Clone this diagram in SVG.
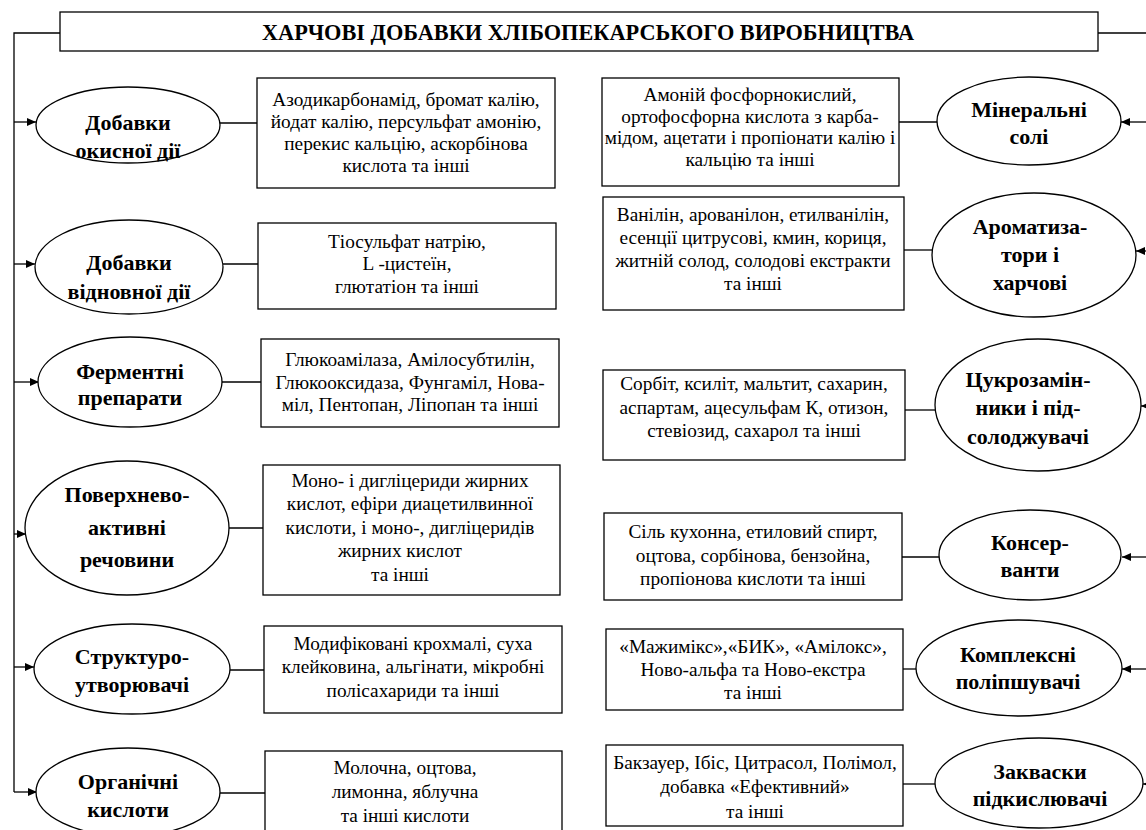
<svg xmlns="http://www.w3.org/2000/svg" width="1146" height="830" viewBox="0 0 1146 830" font-family="'Liberation Serif', serif">
<defs>
<marker id="arr" markerWidth="10" markerHeight="8" refX="9" refY="4" orient="auto" markerUnits="userSpaceOnUse">
<path d="M0,0 L9,4 L0,8 Z" fill="#000"/>
</marker>
<style>
.box{fill:#fff;stroke:#000;stroke-width:1.3}
.ell{fill:#fff;stroke:#000;stroke-width:1.3}
.ln{fill:none;stroke:#000;stroke-width:1.3}
.lab{font-weight:bold;font-size:22px;text-anchor:middle;fill:#000}
.txt{font-size:19.3px;text-anchor:middle;fill:#000}
.ttl{font-weight:bold;font-size:22.3px;text-anchor:middle;fill:#000}
</style>
</defs>
<rect width="1146" height="830" fill="#fff"/>

<g id="connectors">
<path class="ln" d="M60,33 H14 V792"/>
<path class="ln" d="M1098,33 H1146"/>
<line class="ln" x1="14" y1="122" x2="36" y2="122" marker-end="url(#arr)"/>
<line class="ln" x1="14" y1="264" x2="35" y2="264" marker-end="url(#arr)"/>
<line class="ln" x1="14" y1="382" x2="39" y2="382" marker-end="url(#arr)"/>
<line class="ln" x1="14" y1="534" x2="26" y2="534" marker-end="url(#arr)"/>
<line class="ln" x1="14" y1="667" x2="34" y2="667" marker-end="url(#arr)"/>
<line class="ln" x1="14" y1="792" x2="37" y2="792" marker-end="url(#arr)"/>
<line class="ln" x1="220" y1="123" x2="257" y2="123"/>
<line class="ln" x1="223" y1="264" x2="258" y2="264"/>
<line class="ln" x1="222" y1="382" x2="261" y2="382"/>
<line class="ln" x1="229" y1="528" x2="263" y2="528"/>
<line class="ln" x1="230" y1="670" x2="264" y2="670"/>
<line class="ln" x1="220" y1="793" x2="265" y2="793"/>
<line class="ln" x1="1146" y1="122" x2="1121" y2="122" marker-end="url(#arr)"/>
<line class="ln" x1="1146" y1="251" x2="1136" y2="251" marker-end="url(#arr)"/>
<line class="ln" x1="1150" y1="406" x2="1141" y2="406" marker-end="url(#arr)"/>
<line class="ln" x1="1146" y1="557" x2="1122" y2="557" marker-end="url(#arr)"/>
<line class="ln" x1="1146" y1="669" x2="1122" y2="669" marker-end="url(#arr)"/>
<line class="ln" x1="1152" y1="784" x2="1143" y2="784" marker-end="url(#arr)"/>
<line class="ln" x1="899" y1="122" x2="937" y2="122"/>
<line class="ln" x1="904" y1="250" x2="932" y2="250"/>
<line class="ln" x1="905" y1="410" x2="935" y2="410"/>
<line class="ln" x1="902" y1="557" x2="939" y2="557"/>
<line class="ln" x1="903" y1="669" x2="916" y2="669"/>
<line class="ln" x1="903" y1="784" x2="935" y2="784"/>
</g>

<g id="title">
<rect class="box" x="60" y="12" width="1038" height="39"/>
<text class="ttl" x="588" y="40">ХАРЧОВІ ДОБАВКИ ХЛІБОПЕКАРСЬКОГО ВИРОБНИЦТВА</text>
</g>

<g id="e1"><ellipse class="ell" cx="128" cy="125" rx="92" ry="38"/>
<text class="lab" x="128" y="130">Добавки</text><text class="lab" x="128" y="158">окисної дії</text></g>
<g id="e2"><ellipse class="ell" cx="129" cy="267" rx="94" ry="47"/>
<text class="lab" x="129" y="270">Добавки</text><text class="lab" x="129" y="299">відновної дії</text></g>
<g id="e3"><ellipse class="ell" cx="130" cy="382" rx="92" ry="45"/>
<text class="lab" x="130" y="379">Ферментні</text><text class="lab" x="130" y="405">препарати</text></g>
<g id="e4"><ellipse class="ell" cx="127" cy="528" rx="102" ry="67"/>
<text class="lab" x="127" y="502">Поверхнево-</text><text class="lab" x="127" y="535">активні</text><text class="lab" x="127" y="567">речовини</text></g>
<g id="e5"><ellipse class="ell" cx="132" cy="669" rx="98" ry="45"/>
<text class="lab" x="132" y="664">Структуро-</text><text class="lab" x="132" y="692">утворювачі</text></g>
<g id="e6"><ellipse class="ell" cx="128" cy="792" rx="92" ry="44"/>
<text class="lab" x="128" y="789">Органічні</text><text class="lab" x="128" y="817">кислоти</text></g>

<g id="b1"><rect class="box" x="257" y="78" width="298" height="110"/>
<text class="txt" x="406" y="106">Азодикарбонамід, бромат калію,</text>
<text class="txt" x="406" y="128">йодат калію, персульфат амонію,</text>
<text class="txt" x="406" y="150">перекис кальцію, аскорбінова</text>
<text class="txt" x="406" y="172">кислота та інші</text></g>
<g id="b2"><rect class="box" x="258" y="223" width="298" height="86"/>
<text class="txt" x="407" y="248">Тіосульфат натрію,</text>
<text class="txt" x="407" y="270">L -цистеїн,</text>
<text class="txt" x="407" y="293">глютатіон та інші</text></g>
<g id="b3"><rect class="box" x="261" y="339" width="298" height="88"/>
<text class="txt" x="410" y="366">Глюкоамілаза, Амілосубтилін,</text>
<text class="txt" x="410" y="389">Глюкооксидаза, Фунгаміл, Нова-</text>
<text class="txt" x="410" y="411">міл, Пентопан, Ліпопан та інші</text></g>
<g id="b4"><rect class="box" x="263" y="465" width="297" height="130"/>
<text class="txt" x="410" y="487">Моно- і дигліцериди жирних</text>
<text class="txt" x="410" y="510">кислот, ефіри диацетилвинної</text>
<text class="txt" x="410" y="534">кислоти, і моно-, дигліцеридів</text>
<text class="txt" x="400" y="557">жирних кислот</text>
<text class="txt" x="400" y="581">та інші</text></g>
<g id="b5"><rect class="box" x="264" y="626" width="298" height="87"/>
<text class="txt" x="413" y="650">Модифіковані крохмалі, суха</text>
<text class="txt" x="413" y="673">клейковина, альгінати, мікробні</text>
<text class="txt" x="413" y="697">полісахариди та інші</text></g>
<g id="b6"><rect class="box" x="265" y="751" width="297" height="90"/>
<text class="txt" x="405" y="774">Молочна, оцтова,</text>
<text class="txt" x="405" y="798">лимонна, яблучна</text>
<text class="txt" x="405" y="822">та інші кислоти</text></g>

<g id="r1"><ellipse class="ell" cx="1029" cy="121" rx="92" ry="44"/>
<text class="lab" x="1029" y="117">Мінеральні</text><text class="lab" x="1029" y="144">солі</text></g>
<g id="r2"><ellipse class="ell" cx="1034" cy="255" rx="102" ry="62"/>
<text class="lab" x="1030" y="234">Ароматиза-</text><text class="lab" x="1030" y="262">тори і</text><text class="lab" x="1030" y="290">харчові</text></g>
<g id="r3"><ellipse class="ell" cx="1038" cy="405" rx="103" ry="66"/>
<text class="lab" x="1028" y="387">Цукрозамін-</text><text class="lab" x="1028" y="415">ники і під-</text><text class="lab" x="1028" y="444">солоджувачі</text></g>
<g id="r4"><ellipse class="ell" cx="1030" cy="555" rx="91" ry="45"/>
<text class="lab" x="1030" y="550">Консер-</text><text class="lab" x="1030" y="577">ванти</text></g>
<g id="r5"><ellipse class="ell" cx="1019" cy="668" rx="103" ry="48"/>
<text class="lab" x="1018" y="662">Комплексні</text><text class="lab" x="1018" y="689">поліпшувачі</text></g>
<g id="r6"><ellipse class="ell" cx="1039" cy="783" rx="104" ry="45"/>
<text class="lab" x="1040" y="779">Закваски</text><text class="lab" x="1040" y="806">підкислювачі</text></g>

<g id="rb1"><rect class="box" x="602" y="78" width="297" height="108"/>
<text class="txt" x="750" y="101">Амоній фосфорнокислий,</text>
<text class="txt" x="750" y="123">ортофосфорна кислота з карба-</text>
<text class="txt" x="750" y="144">мідом, ацетати і пропіонати калію і</text>
<text class="txt" x="750" y="166">кальцію та інші</text></g>
<g id="rb2"><rect class="box" x="603" y="197" width="301" height="113"/>
<text class="txt" x="753" y="221">Ванілін, арованілон, етилванілін,</text>
<text class="txt" x="753" y="244">есенції цитрусові, кмин, кориця,</text>
<text class="txt" x="753" y="267">житній солод, солодові екстракти</text>
<text class="txt" x="753" y="290">та інші</text></g>
<g id="rb3"><rect class="box" x="603" y="370" width="302" height="90"/>
<text class="txt" x="754" y="390">Сорбіт, ксиліт, мальтит, сахарин,</text>
<text class="txt" x="754" y="414">аспартам, ацесульфам К, отизон,</text>
<text class="txt" x="754" y="437">стевіозид, сахарол та інші</text></g>
<g id="rb4"><rect class="box" x="604" y="513" width="298" height="87"/>
<text class="txt" x="753" y="538">Сіль кухонна, етиловий спирт,</text>
<text class="txt" x="753" y="562">оцтова, сорбінова, бензойна,</text>
<text class="txt" x="753" y="585">пропіонова кислоти та інші</text></g>
<g id="rb5"><rect class="box" x="606" y="629" width="297" height="81"/>
<text class="txt" x="753" y="653">«Мажимікс»,«БИК», «Амілокс»,</text>
<text class="txt" x="753" y="676">Ново-альфа та Ново-екстра</text>
<text class="txt" x="753" y="699">та інші</text></g>
<g id="rb6"><rect class="box" x="606" y="745" width="297" height="81"/>
<text class="txt" x="755" y="769">Бакзауер, Ібіс, Цитрасол, Полімол,</text>
<text class="txt" x="755" y="793">добавка «Ефективний»</text>
<text class="txt" x="755" y="818">та інші</text></g>
</svg>
